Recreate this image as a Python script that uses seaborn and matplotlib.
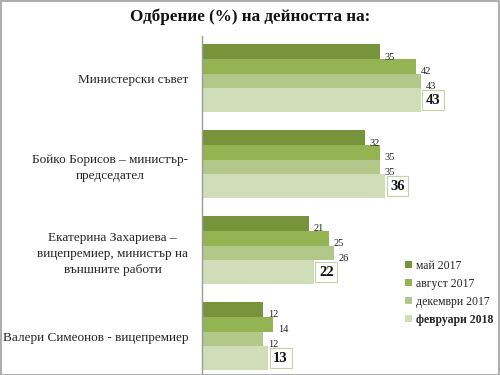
import pandas as pd
import matplotlib
matplotlib.use("Agg")
import matplotlib.pyplot as plt
import seaborn as sns
from matplotlib.patches import Rectangle

categories = [
    "Министерски съвет",
    "Бойко Борисов – министър-\nпредседател",
    "Екатерина Захариева –\nвицепремиер, министър на\nвъншните работи",
    "Валери Симеонов - вицепремиер",
]
series = ["май 2017", "август 2017", "декември 2017", "февруари 2018"]
may_2017 = [35, 32, 21, 12]
aug_2017 = [42, 35, 25, 14]
dec_2017 = [43, 35, 26, 12]
feb_2018 = [43, 36, 22, 13]
colors = ["#77933C", "#94B453", "#B1C88A", "#D1DDB9"]
title = "Одбрение (%) на дейността на:"

values = [may_2017, aug_2017, dec_2017, feb_2018]
rows = []
for s, vals in zip(series, values):
    for c, v in zip(categories, vals):
        rows.append({"cat": c, "val": v, "series": s})
df = pd.DataFrame(rows)

sns.set_theme(style="white")
plt.rcParams["font.family"] = ["Liberation Serif", "DejaVu Serif"]

fig = plt.figure(figsize=(5, 3.75), dpi=100)
ax = fig.add_axes([202 / 500, 2 / 375, 290 / 500, 337 / 375])

sns.barplot(data=df, y="cat", x="val", hue="series", order=categories,
            hue_order=series, palette=colors, orient="h", errorbar=None,
            ax=ax, legend=False, saturation=1)

heights = [0.174, 0.169, 0.169, 0.274]
group_top = -sum(heights) / 2
for i, cont in enumerate(ax.containers):
    off = group_top + sum(heights[:i])
    for j, bar in enumerate(cont):
        bar.set_y(j + off)
        bar.set_height(heights[i])
        bar.set_edgecolor("none")
        v = values[i][j]
        if i < 3:
            ax.text(v + 0.9, j + off + heights[i] * 0.85, str(v), fontsize=7.5,
                    va="center", ha="left", color="#222222")
        else:
            ax.text(v + 1.0, j + off + heights[i] / 2, str(v), fontsize=10.5,
                    fontweight="bold", va="center", ha="left", color="#111111",
                    bbox=dict(boxstyle="square,pad=0.25", fc="white",
                              ec="#c3d3a5", lw=0.8), zorder=5)

ax.set_xlim(0, 290 / 5.09)
ax.set_ylim(3.43, -0.49)
ax.set_xlabel("")
ax.set_ylabel("")
ax.set_xticks([])
ax.set_yticks(range(len(categories)))
ax.set_yticklabels(categories, linespacing=1.45, multialignment="center")
for s in ["top", "right", "bottom"]:
    ax.spines[s].set_visible(False)
ax.spines["left"].set_color("#9a9a9a")
ax.spines["left"].set_linewidth(1)
ax.tick_params(axis="y", length=0, pad=10, labelsize=9.5)

fig.text(0.5, 1 - 17 / 375, title, ha="center", va="center",
         fontsize=12.3, fontweight="bold", color="#111111")

handles = [Rectangle((0, 0), 1, 1, fc=c, ec="none") for c in colors]
leg = fig.legend(handles, series, loc="upper left",
                 bbox_to_anchor=(399 / 500, 1 - 254 / 375), frameon=False,
                 fontsize=8.5, handlelength=0.6, handleheight=0.6,
                 handletextpad=0.3, labelspacing=0.5, borderpad=0)
leg.get_texts()[3].set_fontweight("bold")

fig.patches.append(Rectangle((0.001, 0.001), 0.996, 0.996, transform=fig.transFigure,
                             fill=False, ec="#a0a0a0", lw=1.2))

fig.savefig("out.png", dpi=100)
